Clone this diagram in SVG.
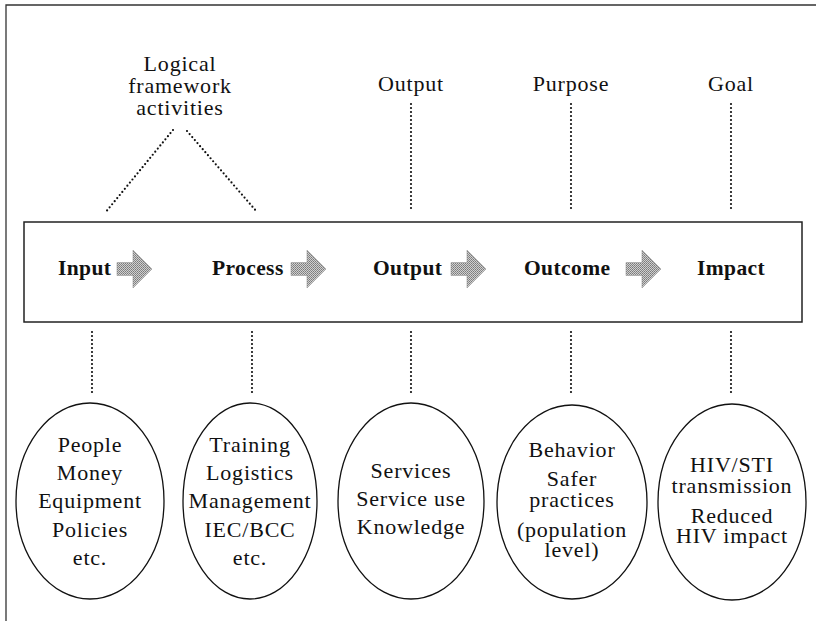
<svg xmlns="http://www.w3.org/2000/svg" width="816" height="621" viewBox="0 0 816 621">
<defs>
<pattern id="dither" width="2" height="2" patternUnits="userSpaceOnUse">
<rect width="2" height="2" fill="#cfcfcf"/>
<rect x="0" y="0" width="1" height="1" fill="#7a7a7a"/>
<rect x="1" y="1" width="1" height="1" fill="#8a8a8a"/>
</pattern>
<path id="arr" d="M0,-6.5 H16 V-19 L35,0 L16,19 V6.5 H0 Z"/>
</defs>
<style>
.lbl{font-family:"Liberation Serif","Times New Roman",serif;font-size:22px;letter-spacing:0.8px;fill:#111;text-anchor:middle}
.stage{font-family:"Liberation Serif","Times New Roman",serif;font-size:21.5px;font-weight:bold;letter-spacing:0.4px;fill:#111}
.dot{fill:none;stroke:#111;stroke-width:2.2;stroke-linecap:round;stroke-dasharray:0 4}
.ell{fill:#fff;stroke:#111;stroke-width:1.3}
.arrow{fill:url(#dither);stroke:#999;stroke-width:0.6}
</style>
<rect width="816" height="621" fill="#fff"/>
<path d="M6,621 V5 H816" fill="none" stroke="#333" stroke-width="1.3"/>

<g id="top-labels">
<text class="lbl" x="180" y="71">Logical</text>
<text class="lbl" x="180" y="93">framework</text>
<text class="lbl" x="180" y="115">activities</text>
<text class="lbl" x="411" y="91">Output</text>
<text class="lbl" x="571" y="91">Purpose</text>
<text class="lbl" x="731" y="91">Goal</text>
</g>

<g id="chain">
<rect x="24" y="222" width="778" height="100" fill="#fff" stroke="#222" stroke-width="1.5"/>
<g id="input"><text class="stage" x="58" y="275">Input</text><use href="#arr" class="arrow" transform="translate(117,269)"/></g>
<g id="process"><text class="stage" x="212" y="275">Process</text><use href="#arr" class="arrow" transform="translate(291,269)"/></g>
<g id="output"><text class="stage" x="373" y="275">Output</text><use href="#arr" class="arrow" transform="translate(451,269)"/></g>
<g id="outcome"><text class="stage" x="524" y="275">Outcome</text><use href="#arr" class="arrow" transform="translate(626,269)"/></g>
<g id="impact"><text class="stage" x="697" y="275">Impact</text></g>
</g>

<g id="connectors">
<path class="dot" d="M173,130 L105,213"/>
<path class="dot" d="M187,131 L257,212"/>
<path class="dot" d="M411,104 V212"/>
<path class="dot" d="M571,104 V212"/>
<path class="dot" d="M731,104 V212"/>
<path class="dot" d="M92,332 V395"/>
<path class="dot" d="M252,332 V395"/>
<path class="dot" d="M411,332 V395"/>
<path class="dot" d="M571,332 V395"/>
<path class="dot" d="M731,332 V395"/>
</g>

<g id="ellipse-input">
<ellipse class="ell" cx="90" cy="501" rx="74" ry="98"/>
<text class="lbl" x="90" y="452">People</text>
<text class="lbl" x="90" y="480">Money</text>
<text class="lbl" x="90" y="508">Equipment</text>
<text class="lbl" x="90" y="537">Policies</text>
<text class="lbl" x="90" y="565">etc.</text>
</g>
<g id="ellipse-process">
<ellipse class="ell" cx="250" cy="501" rx="67" ry="98"/>
<text class="lbl" x="250" y="452">Training</text>
<text class="lbl" x="250" y="480">Logistics</text>
<text class="lbl" x="250" y="508">Management</text>
<text class="lbl" x="250" y="537">IEC/BCC</text>
<text class="lbl" x="250" y="565">etc.</text>
</g>
<g id="ellipse-output">
<ellipse class="ell" cx="411" cy="501" rx="73" ry="98"/>
<text class="lbl" x="411" y="478">Services</text>
<text class="lbl" x="411" y="506">Service use</text>
<text class="lbl" x="411" y="534">Knowledge</text>
</g>
<g id="ellipse-outcome">
<ellipse class="ell" cx="572" cy="502" rx="75" ry="97"/>
<text class="lbl" x="572" y="457">Behavior</text>
<text class="lbl" x="572" y="486">Safer</text>
<text class="lbl" x="572" y="507">practices</text>
<text class="lbl" x="572" y="537">(population</text>
<text class="lbl" x="572" y="557">level)</text>
</g>
<g id="ellipse-impact">
<ellipse class="ell" cx="732" cy="502" rx="74" ry="98"/>
<text class="lbl" x="732" y="472">HIV/STI</text>
<text class="lbl" x="732" y="493">transmission</text>
<text class="lbl" x="732" y="523">Reduced</text>
<text class="lbl" x="732" y="543">HIV impact</text>
</g>
</svg>
